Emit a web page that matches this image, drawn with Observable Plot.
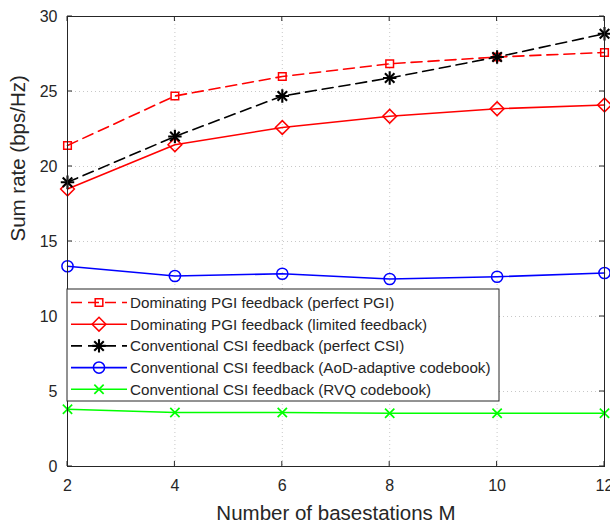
<!DOCTYPE html>
<html>
<head>
<meta charset="utf-8">
<script src="https://cdn.jsdelivr.net/npm/d3@7"></script>
<script src="https://cdn.jsdelivr.net/npm/@observablehq/plot@0.6"></script>
<style>
  html, body { margin: 0; padding: 0; background: #fff; }
  #wrap { position: relative; width: 610px; height: 524px; overflow: hidden; }
</style>
</head>
<body>
<div id="wrap"></div>
<script>
// ---- data ----
const M = [2, 4, 6, 8, 10, 12];
const perfectPGI = [21.4, 24.7, 26.0, 26.85, 27.3, 27.6];
const limitedPGI = [18.5, 21.45, 22.6, 23.35, 23.85, 24.1];
const perfectCSI = [18.95, 22.0, 24.7, 25.9, 27.3, 28.85];
const aodCSI = [13.35, 12.7, 12.85, 12.5, 12.65, 12.9];
const rvqCSI = [3.82, 3.6, 3.6, 3.55, 3.55, 3.55];
const xTicks = [2, 4, 6, 8, 10, 12];
const yTicks = [0, 5, 10, 15, 20, 25, 30];
const seriesNames = [
  "Dominating PGI feedback (perfect PGI)",
  "Dominating PGI feedback (limited feedback)",
  "Conventional CSI feedback (perfect CSI)",
  "Conventional CSI feedback (AoD-adaptive codebook)",
  "Conventional CSI feedback (RVQ codebook)"
];
const xLabel = "Number of basestations M";
const yLabel = "Sum rate (bps/Hz)";

// ---- styles ----
const styles = [
  {color: "#ff0000", dash: "11,6", symbols: ["square"], r: 4.3, sw: 1.5},
  {color: "#ff0000", dash: null, symbols: ["diamond2"], r: 6.2, sw: 1.5},
  {color: "#000000", dash: "11,6", symbols: ["plus", "times"], r: 4.4, sw: 2.1},
  {color: "#0000ff", dash: null, symbols: ["circle"], r: 5.6, sw: 1.5},
  {color: "#00ff00", dash: null, symbols: ["times"], r: 4.3, sw: 1.7}
];
const allSeries = [perfectPGI, limitedPGI, perfectCSI, aodCSI, rvqCSI];
const rows = allSeries.map((ys, i) => M.map((m, j) => ({m, v: ys[j], s: i})));

const axisColor = "#262626";
const font = "'Liberation Sans', Arial, Helvetica, sans-serif";
const marks = [
  Plot.gridX(xTicks, {stroke: "#c8c8c8", strokeOpacity: 1, strokeDasharray: "1,3"}),
  Plot.gridY(yTicks, {stroke: "#c8c8c8", strokeOpacity: 1, strokeDasharray: "1,3"}),
];
rows.forEach((data, i) => {
  const st = styles[i];
  marks.push(Plot.line(data, {x: "m", y: "v", stroke: st.color, strokeWidth: 1.6, strokeDasharray: st.dash}));
  st.symbols.forEach(sym => {
    marks.push(Plot.dot(data, {x: "m", y: "v", symbol: () => sym, r: st.r, stroke: st.color, strokeWidth: st.sw, fill: "none"}));
  });
});
marks.push(
  Plot.frame({stroke: axisColor, strokeWidth: 1}),
  Plot.axisX(xTicks, {anchor: "bottom", tickSize: 0, tickPadding: 13, fontSize: 16, fill: axisColor}),
  Plot.axisY(yTicks, {anchor: "left", tickSize: 0, tickPadding: 10, fontSize: 16, fill: axisColor}),
  Plot.text([xLabel], {frameAnchor: "bottom", dy: 47, lineAnchor: "middle", fontSize: 20.5, fill: axisColor}),
  Plot.text([yLabel], {frameAnchor: "left", dx: -49, rotate: -90, lineAnchor: "middle", fontSize: 20.5, fill: axisColor})
);

const chart = Plot.plot({
  width: 610,
  height: 524,
  marginLeft: 67,
  marginRight: 6,
  marginTop: 16,
  marginBottom: 58,
  x: {domain: [2, 12], label: null},
  y: {domain: [0, 30], label: null},
  style: {fontFamily: font, background: "#fff", overflow: "hidden"},
  marks
});
document.getElementById("wrap").appendChild(chart);

// inward ticks on all four sides, through the chart's scales
const sx = chart.scale("x"), sy = chart.scale("y");
const svg = d3.select(chart);
const X = v => sx.apply(v), Y = v => sy.apply(v);
const [x0, x1] = sx.range, [y0, y1] = sy.range; // y0 bottom, y1 top
const tg = svg.append("g").attr("stroke", axisColor).attr("stroke-width", 1);
xTicks.forEach(t => {
  tg.append("line").attr("x1", X(t)).attr("x2", X(t)).attr("y1", y0).attr("y2", y0 - 5);
  tg.append("line").attr("x1", X(t)).attr("x2", X(t)).attr("y1", y1).attr("y2", y1 + 5);
});
yTicks.forEach(t => {
  tg.append("line").attr("y1", Y(t)).attr("y2", Y(t)).attr("x1", x0).attr("x2", x0 + 5);
  tg.append("line").attr("y1", Y(t)).attr("y2", Y(t)).attr("x1", x1).attr("x2", x1 - 5);
});

// ---- legend ----
const symMap = {square: d3.symbolSquare, diamond2: d3.symbolDiamond2, circle: d3.symbolCircle, times: d3.symbolTimes, plus: d3.symbolPlus};
const lg = svg.append("g").attr("font-family", font).attr("text-anchor", "start");
const lx = x0, ly = 289, lw = 432, lh = 112, rowH = 21.7;
lg.append("rect").attr("x", lx).attr("y", ly).attr("width", lw).attr("height", lh)
  .attr("fill", "#fff").attr("stroke", axisColor).attr("stroke-width", 1);
seriesNames.forEach((name, i) => {
  const st = styles[i];
  const cy = ly + 13.5 + i * rowH;
  lg.append("line").attr("x1", lx + 4).attr("x2", lx + 60).attr("y1", cy).attr("y2", cy)
    .attr("stroke", st.color).attr("stroke-width", 1.6).attr("stroke-dasharray", st.dash);
  st.symbols.forEach(sym => {
    lg.append("path").attr("d", d3.symbol(symMap[sym], st.r * st.r * Math.PI)())
      .attr("transform", `translate(${lx + 32},${cy})`)
      .attr("fill", "none").attr("stroke", st.color).attr("stroke-width", st.sw);
  });
  lg.append("text").attr("x", lx + 63).attr("y", cy).attr("dy", "0.35em")
    .attr("font-size", 15.2).attr("fill", axisColor).text(name);
});
</script>
</body>
</html>
